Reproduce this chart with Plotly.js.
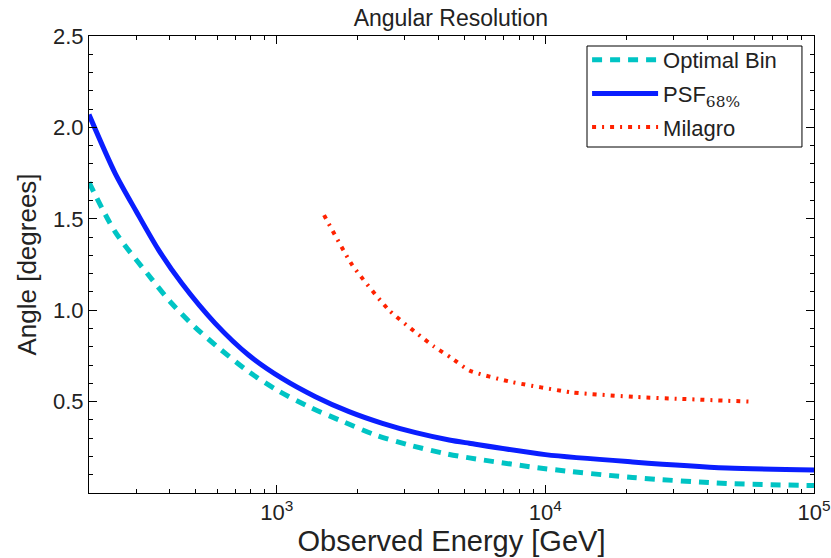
<!DOCTYPE html>
<html>
<head>
<meta charset="utf-8">
<script src="https://cdn.plot.ly/plotly-3.0.1.min.js"></script>
<style>html,body{margin:0;padding:0;background:#fff;}#chart{width:831px;height:558px;}</style>
</head>
<body>
<div id="chart"></div>
<script>
// Energies (GeV) and angular resolution (degrees)
const energyOptimal = [200, 250, 343, 406, 497, 617, 785, 1003, 1316, 1729, 2335, 3200, 4262, 5210, 10000, 21100, 47400, 100000];
const angleOptimal  = [1.70, 1.43, 1.169, 1.038, 0.906, 0.786, 0.664, 0.563, 0.472, 0.396, 0.317, 0.258, 0.215, 0.192, 0.133, 0.085, 0.052, 0.041];

const energyPSF = [200, 250, 300, 363, 443, 590, 785, 1047, 1393, 1858, 2473, 3291, 4383, 5210, 10000, 21100, 47400, 100000];
const anglePSF  = [2.07, 1.75, 1.54, 1.33, 1.147, 0.928, 0.755, 0.627, 0.527, 0.445, 0.381, 0.330, 0.290, 0.272, 0.21, 0.17, 0.137, 0.126];

const energyMilagro = [1500, 1910, 2618, 3857, 4460, 5210, 7340, 12600, 21900, 31700, 57000];
const angleMilagro  = [1.52, 1.247, 1.0, 0.80, 0.74, 0.67, 0.61, 0.55, 0.525, 0.515, 0.50];

const xTickVals = [1000, 10000, 100000];
const xTickText = ['10<sup>3</sup>', '10<sup>4</sup>', '10<sup>5</sup>'];
const yTickVals = [0.5, 1.0, 1.5, 2.0, 2.5];
const yTickText = ['0.5', '1.0', '1.5', '2.0', '2.5'];

const FONT = 'Liberation Sans, Arial, sans-serif';

const traces = [
  {x: energyOptimal, y: angleOptimal, mode: 'lines', name: 'Optimal Bin', legendgroup: 'a',
   line: {color: '#00C4C4', width: 5, dash: '10px,8px', shape: 'spline', smoothing: 0.8}},
  {x: energyPSF, y: anglePSF, mode: 'lines', name: 'PSF<sub><span style="font-family:DejaVu Serif">68%</span></sub>', legendgroup: 'b',
   line: {color: '#0A1EFF', width: 5, shape: 'spline', smoothing: 0.8}},
  {x: energyMilagro, y: angleMilagro, mode: 'lines', name: 'Milagro', legendgroup: 'c',
   line: {color: '#FF2200', width: 4, dash: '4px,6px,2px,6px', shape: 'spline', smoothing: 0.5}}
];

const layout = {
  width: 831, height: 558,
  margin: {l: 89, r: 17, t: 36, b: 65},
  paper_bgcolor: '#fff', plot_bgcolor: '#fff',
  font: {family: FONT, color: '#222', size: 20},
  title: {text: 'Angular Resolution', font: {family: FONT, size: 23, color: '#222'},
          x: 0.5425, xanchor: 'center', y: 0.967, yanchor: 'middle'},
  showlegend: true,
  legend: {x: 0.687, y: 0.9934, xanchor: 'left', yanchor: 'top',
           borderwidth: 0, bgcolor: 'rgba(0,0,0,0)',
           itemwidth: 66, traceorder: 'grouped', tracegroupgap: 2,
           font: {family: FONT, size: 22, color: '#222'}},
  shapes: [{type: 'rect', xref: 'paper', yref: 'paper', x0: 0.6869, x1: 0.9834, y0: 0.7571, y1: 0.9781,
            line: {color: '#000', width: 1}, fillcolor: '#fff', layer: 'above'}],
  xaxis: {type: 'log', range: [Math.log10(200), 5], showgrid: false, zeroline: false,
          showline: true, linecolor: '#000', linewidth: 1, mirror: 'ticks',
          ticks: 'inside', ticklen: 8, tickcolor: '#000',
          tickvals: xTickVals, ticktext: xTickText,
          tickfont: {family: FONT, size: 22, color: '#222'},
          minor: {ticks: 'inside', ticklen: 4, tickcolor: '#000', dtick: 'D1'},
          title: {text: 'Observed Energy [GeV]', font: {family: FONT, size: 29, color: '#222'}, standoff: 4}},
  yaxis: {range: [0, 2.5], showgrid: false, zeroline: false,
          showline: true, linecolor: '#000', linewidth: 1, mirror: 'ticks',
          ticks: 'inside', ticklen: 8, tickcolor: '#000',
          tickvals: yTickVals, ticktext: yTickText,
          tickfont: {family: FONT, size: 22, color: '#222'},
          minor: {ticks: 'inside', ticklen: 4, tickcolor: '#000', dtick: 0.1},
          title: {text: 'Angle [degrees]', font: {family: FONT, size: 26, color: '#222'}, standoff: 8}}
};

Plotly.newPlot('chart', traces, layout, {displayModeBar: false, staticPlot: true});
</script>
</body>
</html>
